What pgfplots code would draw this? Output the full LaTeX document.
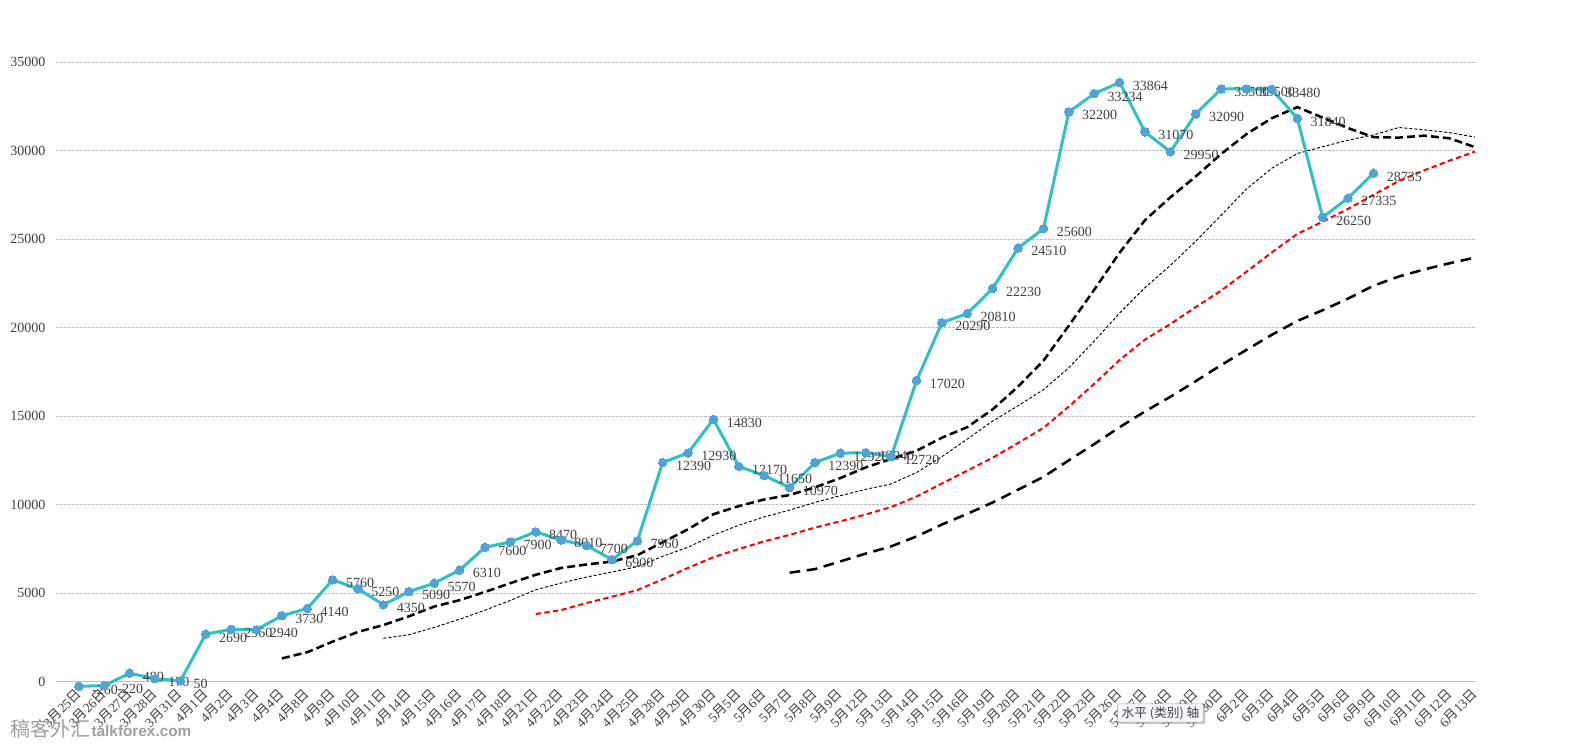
\documentclass[border=0pt]{standalone}
\usepackage{fontspec}
\setmainfont{Liberation Serif}
\newfontfamily\cjk{Noto Sans CJK SC}
\newfontfamily\lsans{Liberation Sans}
\usepackage{pgfplots}
\pgfplotsset{compat=1.18}
\usepackage{pgfplotstable}
\usetikzlibrary{shadows}

\definecolor{tealL}{RGB}{47,193,196}
\definecolor{mk}{RGB}{79,163,214}
\definecolor{txt}{RGB}{64,64,64}
\definecolor{gridc}{RGB}{191,191,191}
\newcommand{\md}[2]{#1{\cjk 月}#2{\cjk 日}}

\pgfplotstableread{
x y
0 -260
1 -220
2 480
3 170
4 50
5 2690
6 2960
7 2940
8 3730
9 4140
10 5760
11 5250
12 4350
13 5090
14 5570
15 6310
16 7600
17 7900
18 8470
19 8010
20 7700
21 6900
22 7960
23 12390
24 12930
25 14830
26 12170
27 11650
28 10970
29 12390
30 12920
31 12940
32 12720
33 17020
34 20290
35 20810
36 22230
37 24510
38 25600
39 32200
40 33234
41 33864
42 31070
43 29950
44 32090
45 33500
46 33500
47 33480
48 31840
49 26250
50 27335
51 28735
}\main

\pgfplotstableread{
x y
8 1320
9 1668
10 2270
11 2817
12 3204
13 3696
14 4248
15 4610
16 5074
17 5570
18 6044
19 6431
20 6625
21 6790
22 7151
23 7881
24 8617
25 9469
26 9926
27 10301
28 10551
29 10989
30 11511
31 12115
32 12591
33 13054
34 13790
35 14388
36 15394
37 16680
38 18143
39 20124
40 22155
41 24248
42 26083
43 27376
44 28556
45 29825
46 30952
47 31849
48 32473
49 31878
50 31288
51 30775
52 30750
53 30860
54 30710
55 30210
}\maA

\pgfplotstableread{
x y
12 2453
13 2652
14 3069
15 3535
16 4044
17 4596
18 5197
19 5577
20 5916
21 6199
22 6501
23 7090
24 7602
25 8286
26 8845
27 9314
28 9699
29 10134
30 10514
31 10874
32 11177
33 11821
34 12720
35 13714
36 14733
37 15599
38 16504
39 17744
40 19249
41 20836
42 22271
43 23526
44 24895
45 26363
46 27848
47 29023
48 29848
49 30237
50 30602
51 30903
52 31320
53 31190
54 31030
55 30780
}\maB

\pgfplotstableread{
x y
18 3827
19 4050
20 4448
21 4804
22 5178
23 5789
24 6433
25 7040
26 7500
27 7936
28 8298
29 8710
30 9068
31 9453
32 9871
33 10468
34 11204
35 11929
36 12660
37 13491
38 14347
39 15557
40 16833
41 18181
42 19337
43 20215
44 21173
45 22106
46 23173
47 24264
48 25308
49 26001
50 26722
51 27511
52 28300
53 28900
54 29450
55 29960
}\maC

\pgfplotstableread{
x y
28 6160
29 6363
30 6802
31 7241
32 7649
33 8210
34 8885
35 9489
36 10131
37 10850
38 11579
39 12515
40 13430
41 14384
42 15275
43 16104
44 16988
45 17894
46 18757
47 19610
48 20389
49 20997
50 21651
51 22379
52 22900
53 23300
54 23650
55 23970
}\maD

\begin{document}
\begin{tikzpicture}[x=0.75pt,y=0.75pt]
\useasboundingbox (0,0) rectangle (1579,750);
\fill[white] (0,0) rectangle (1579,750);
\begin{axis}[
  at={(42pt,51.2pt)}, anchor=south west,
  scale only axis, width=1064.25pt, height=464.5pt,
  xmin=-0.9, xmax=55, ymin=0, ymax=35000,
  clip=false,
  axis line style={draw=none},
  major tick length=0pt,
  scaled y ticks=false,
  ytick={0,5000,10000,15000,20000,25000,30000,35000},
  yticklabels={0,5000,10000,15000,20000,25000,30000,35000},
  yticklabel style={font=\fontsize{10.5}{11}\selectfont, text=txt, xshift=-4.5pt},
  ymajorgrids,
  grid style={gridc, line width=0.75pt, dash pattern=on 2.25pt off 0.75pt},
  extra y ticks={0}, extra y tick labels={},
  extra y tick style={grid style={gridc, line width=0.9pt, solid}},
  xtick={0,...,55},
  xticklabels={\md{3}{25},\md{3}{26},\md{3}{27},\md{3}{28},\md{3}{31},\md{4}{1},\md{4}{2},\md{4}{3},\md{4}{4},\md{4}{8},\md{4}{9},\md{4}{10},\md{4}{11},\md{4}{14},\md{4}{15},\md{4}{16},\md{4}{17},\md{4}{18},\md{4}{21},\md{4}{22},\md{4}{23},\md{4}{24},\md{4}{25},\md{4}{28},\md{4}{29},\md{4}{30},\md{5}{5},\md{5}{6},\md{5}{7},\md{5}{8},\md{5}{9},\md{5}{12},\md{5}{13},\md{5}{14},\md{5}{15},\md{5}{16},\md{5}{19},\md{5}{20},\md{5}{21},\md{5}{22},\md{5}{23},\md{5}{26},\md{5}{27},\md{5}{28},\md{5}{29},\md{5}{30},\md{6}{2},\md{6}{3},\md{6}{4},\md{6}{5},\md{6}{6},\md{6}{9},\md{6}{10},\md{6}{11},\md{6}{12},\md{6}{13}},
  xticklabel style={xshift=-3.3pt, yshift=-3.4pt, rotate=45, anchor=north east, font=\fontsize{10}{10}\selectfont, text=txt, inner sep=0.5pt},
]
\addplot[black, line width=0.7pt, dash pattern=on 2.25pt off 1.5pt] table[x=x,y=y]{\maB};
\addplot[red, line width=1.5pt, dash pattern=on 4pt off 2.5pt] table[x=x,y=y]{\maC};
\addplot[black, line width=1.9pt, dash pattern=on 8pt off 5pt] table[x=x,y=y]{\maD};
\addplot[black, line width=1.9pt, dash pattern=on 6pt off 3pt] table[x=x,y=y]{\maA};
\addplot[tealL, line width=2.25pt, mark=*, mark size=3.2pt,
  mark options={fill=mk, draw=mk, line width=0pt},
  point meta=explicit symbolic, nodes near coords,
  every node near coord/.append style={anchor=west, inner sep=0pt, xshift=10pt, yshift=-2.5pt, text=txt, font=\fontsize{10.5}{11}\selectfont}]
  table[x=x,y=y,meta=y]{\main};
\end{axis}
\node[anchor=west, inner sep=0pt, text=gray!75] at (10,21) {{\cjk\fontsize{15}{15}\selectfont 稿客外汇}\hspace{1pt}{\lsans\bfseries\fontsize{11.5}{12}\selectfont talkforex.com}};
\node[draw=gray!70, fill=blue!3, rounded corners=1pt, text=txt, inner xsep=3pt, inner ysep=2pt,
  drop shadow={shadow xshift=1.5pt, shadow yshift=-1.5pt, opacity=0.4},
  font=\cjk\fontsize{9.5}{10}\selectfont] at (1160.5,37) {水平 (类别) 轴};
\end{tikzpicture}
\end{document}
